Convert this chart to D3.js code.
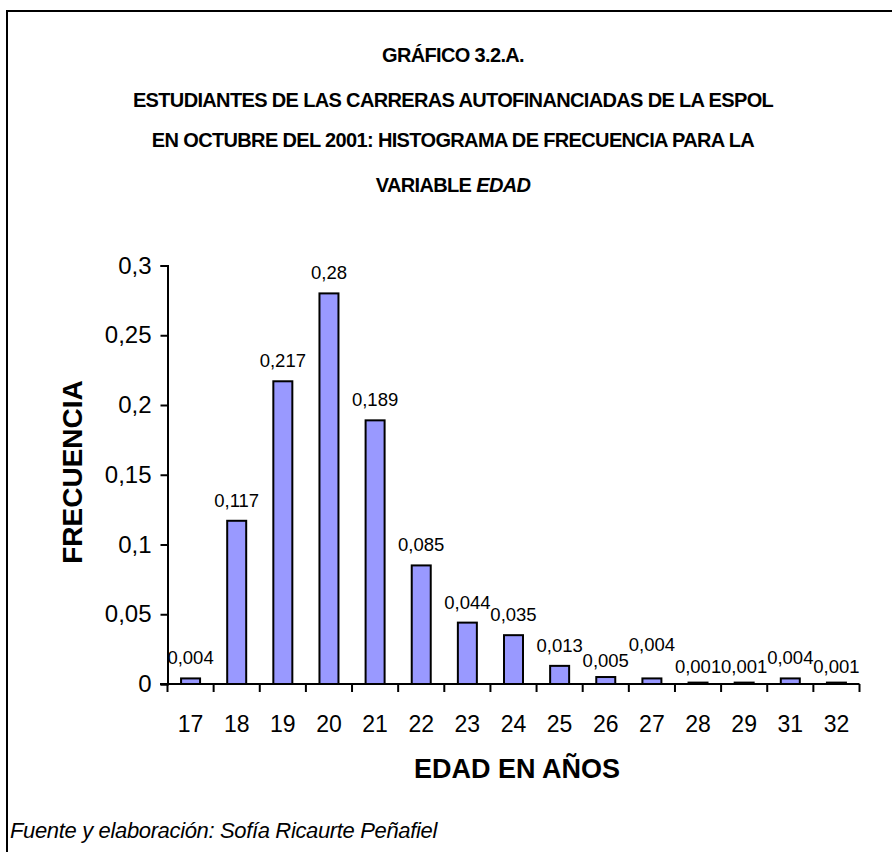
<!DOCTYPE html>
<html>
<head>
<meta charset="utf-8">
<script src="https://cdn.jsdelivr.net/npm/d3@7"></script>
<style>
  body { margin: 0; background: #fff; }
  svg { display: block; }
</style>
</head>
<body>
<div id="chart"></div>
<script>
// datos
const edades = ["17", "18", "19", "20", "21", "22", "23", "24", "25", "26", "27", "28", "29", "31", "32"];
const frecuencias = [0.004, 0.117, 0.217, 0.28, 0.189, 0.085, 0.044, 0.035, 0.013, 0.005, 0.004, 0.001, 0.001, 0.004, 0.001];
const yTicks = [0, 0.05, 0.1, 0.15, 0.2, 0.25, 0.3];
const titulo = ["GRÁFICO 3.2.A.", "ESTUDIANTES DE LAS CARRERAS AUTOFINANCIADAS DE LA ESPOL", "EN OCTUBRE DEL 2001: HISTOGRAMA DE FRECUENCIA PARA LA", "VARIABLE "];

const W = 892, H = 852;
const font = "Arial, 'Liberation Sans', sans-serif";
const coma = v => String(v).replace(".", ",");
// Excel movió algunas etiquetas para que no se pisen
const ajusteEtiqueta = { "26": 4, "27": -13, "28": 4, "29": 4, "32": 4 };

const svg = d3.select("#chart").append("svg")
  .attr("width", W)
  .attr("height", H);

// marco (solo arriba e izquierda)
svg.append("path")
  .attr("d", "M7,852V11H892")
  .attr("fill", "none")
  .attr("stroke", "#000")
  .attr("stroke-width", 2);

// título
const tituloY = [61.5, 106.5, 146.5, 191.5];
titulo.forEach((t, i) => {
  const txt = svg.append("text")
    .attr("x", 453)
    .attr("y", tituloY[i])
    .attr("text-anchor", "middle")
    .attr("font-family", font)
    .attr("font-weight", "bold")
    .attr("font-size", 20)
    .attr("letter-spacing", -0.65)
    .text(t);
  if (i === 3) {
    txt.append("tspan").attr("font-style", "italic").text("EDAD");
  }
});

const x = d3.scaleBand()
  .domain(edades)
  .range([167.5, 859.5])
  .paddingInner(0)
  .paddingOuter(0);

const y = d3.scaleLinear()
  .domain([0, 0.3])
  .range([684, 265.5]);

const barW = 19;

// barras
svg.selectAll(".bar")
  .data(frecuencias)
  .enter()
  .append("rect")
  .attr("class", "bar")
  .attr("x", (d, i) => x(edades[i]) + x.bandwidth() / 2 - barW / 2)
  .attr("y", d => y(d))
  .attr("width", barW)
  .attr("height", d => y(0) - y(d))
  .attr("fill", "#9999ff")
  .attr("stroke", "#000")
  .attr("stroke-width", 2);

// etiquetas de valores
svg.selectAll(".lbl")
  .data(frecuencias)
  .enter()
  .append("text")
  .attr("class", "lbl")
  .attr("x", (d, i) => x(edades[i]) + x.bandwidth() / 2)
  .attr("y", (d, i) => y(d) - 14 + (ajusteEtiqueta[edades[i]] || 0))
  .attr("text-anchor", "middle")
  .attr("font-family", font)
  .attr("font-size", 18.5)
  .attr("fill", "#000")
  .text(d => coma(d));

// eje Y
const yAxis = svg.append("g")
  .attr("transform", "translate(167.5,0)")
  .call(d3.axisLeft(y).tickValues(yTicks).tickSize(7).tickPadding(9).tickFormat(coma));
yAxis.select(".domain").attr("stroke-width", 2);
yAxis.selectAll(".tick line").attr("stroke-width", 2);
yAxis.selectAll(".tick text")
  .attr("font-family", font)
  .attr("font-size", 24)
  .attr("fill", "#000");

// eje X: marcas entre categorías
const xAxis = svg.append("g")
  .attr("transform", "translate(0,684)");
xAxis.append("line")
  .attr("x1", 160).attr("x2", x.range()[1])
  .attr("stroke", "#000").attr("stroke-width", 2);
const bordes = edades.map(e => x(e)).concat([x.range()[1]]);
xAxis.selectAll(".tk")
  .data(bordes)
  .enter()
  .append("line")
  .attr("x1", d => d).attr("x2", d => d)
  .attr("y1", 0).attr("y2", 8)
  .attr("stroke", "#000").attr("stroke-width", 2);
xAxis.selectAll(".xl")
  .data(edades)
  .enter()
  .append("text")
  .attr("x", d => x(d) + x.bandwidth() / 2)
  .attr("y", 47.5)
  .attr("text-anchor", "middle")
  .attr("font-family", font)
  .attr("font-size", 23)
  .text(d => d);

// títulos de ejes
svg.append("text")
  .attr("x", 517)
  .attr("y", 778)
  .attr("text-anchor", "middle")
  .attr("font-family", font)
  .attr("font-weight", "bold")
  .attr("font-size", 27)
  .text("EDAD EN AÑOS");

svg.append("text")
  .attr("transform", "translate(82,472) rotate(-90)")
  .attr("text-anchor", "middle")
  .attr("font-family", font)
  .attr("font-weight", "bold")
  .attr("font-size", 28)
  .text("FRECUENCIA");

// fuente
svg.append("text")
  .attr("x", 10)
  .attr("y", 838)
  .attr("font-family", font)
  .attr("font-style", "italic")
  .attr("font-size", 22)
  .attr("letter-spacing", -0.35)
  .text("Fuente y elaboración: Sofía Ricaurte Peñafiel");
</script>
</body>
</html>
